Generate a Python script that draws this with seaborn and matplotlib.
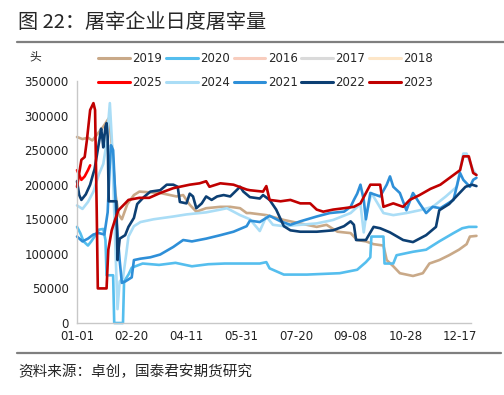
import matplotlib
matplotlib.use("Agg")
import matplotlib.pyplot as plt
from matplotlib.lines import Line2D
import seaborn as sns

# day of year (0 = 01-01) and daily slaughter volume (head)
days_2019 = [0, 5, 10, 14, 18, 24, 29, 32, 35, 38, 41, 46, 52, 57, 66, 76, 91, 97, 103, 109, 118, 131, 140, 149,
             155, 158, 173, 189, 204, 219, 228, 238, 250, 256, 264, 271, 280, 283, 289, 295, 307, 316, 322, 331,
             340, 349, 356, 359, 365]
vals_2019 = [269000, 266000, 268000, 264000, 272000, 284000, 296000, 255000, 188000, 157000, 150000, 172000,
             185000, 190000, 189000, 188000, 183000, 185000, 171000, 161000, 166000, 168000, 168000, 166000,
             159000, 159000, 156000, 149000, 144000, 139000, 142000, 132000, 130000, 120000, 118000, 114000,
             112000, 91000, 82000, 72000, 68000, 72000, 86000, 91000, 98000, 106000, 114000, 125000, 126000]

days_2020 = [0, 3, 6, 10, 13, 16, 20, 24, 26, 27, 33, 34, 42, 43, 47, 50, 60, 75, 90, 105, 120, 135, 149, 167,
             173, 176, 189, 210, 240, 256, 264, 268, 269, 280, 281, 289, 292, 307, 319, 331, 344, 352, 358, 365]
vals_2020 = [139000, 130000, 118000, 112000, 118000, 125000, 135000, 136000, 120000, 69000, 69000, 0, 0,
             60000, 70000, 80000, 86000, 84000, 87000, 82000, 85000, 86000, 86000, 86000, 88000, 79000,
             70000, 70000, 72000, 77000, 88000, 95000, 125000, 125000, 86000, 86000, 98000, 103000, 106000,
             118000, 130000, 137000, 139000, 139000]

days_2021 = [0, 5, 10, 15, 20, 25, 28, 30, 31, 33, 36, 39, 41, 44, 50, 52, 58, 67, 76, 88, 97, 105, 118, 131,
             143, 155, 158, 167, 176, 186, 195, 204, 219, 231, 244, 250, 253, 256, 259, 262, 264, 268, 277,
             283, 286, 289, 295, 301, 307, 313, 319, 325, 332, 344, 350, 353, 359, 362, 365]
vals_2021 = [125000, 118000, 122000, 128000, 130000, 128000, 160000, 230000, 257000, 250000, 150000, 90000,
             58000, 60000, 66000, 91000, 93000, 95000, 99000, 110000, 120000, 118000, 122000, 127000, 132000,
             140000, 148000, 146000, 155000, 147000, 142000, 147000, 154000, 159000, 161000, 168000, 178000,
             187000, 200000, 178000, 150000, 188000, 183000, 200000, 212000, 197000, 188000, 163000, 188000,
             173000, 159000, 168000, 166000, 178000, 217000, 207000, 197000, 207000, 210000]

days_2022 = [0, 2, 4, 8, 12, 15, 16, 21, 22, 23, 24, 26, 27, 28, 29, 33, 36, 37, 39, 44, 47, 52, 55, 61, 67, 76,
             82, 88, 92, 94, 100, 103, 106, 109, 114, 118, 123, 128, 134, 140, 149, 152, 158, 167, 170, 176,
             182, 189, 195, 204, 219, 234, 244, 250, 253, 255, 264, 271, 277, 286, 298, 307, 319, 328, 331,
             340, 349, 355, 361, 365]
vals_2022 = [205000, 185000, 178000, 186000, 200000, 217000, 222000, 270000, 281000, 270000, 254000, 284000,
             289000, 270000, 176000, 176000, 176000, 91000, 122000, 127000, 139000, 152000, 172000, 182000,
             190000, 192000, 200000, 200000, 197000, 175000, 173000, 187000, 183000, 166000, 173000, 183000,
             178000, 183000, 185000, 183000, 197000, 190000, 182000, 180000, 185000, 178000, 164000, 140000,
             134000, 132000, 132000, 134000, 140000, 147000, 142000, 120000, 120000, 139000, 137000, 131000,
             120000, 117000, 127000, 139000, 163000, 172000, 187000, 197000, 200000, 198000]

days_2023 = [0, 4, 7, 9, 12, 15, 16.5, 18, 19, 27, 28.6, 31.7, 34.7, 37.8, 44, 47, 57, 66, 76, 88, 103, 112, 118,
             121, 131, 143, 155, 158, 170, 173, 176, 186, 195, 204, 213, 219, 225, 234, 244, 253, 259, 268,
             277, 280, 289, 298, 304, 313, 323, 332, 344, 350, 353, 358, 362, 365]
vals_2023 = [197000, 236000, 240000, 264000, 308000, 318000, 308000, 163000, 50000, 50000, 106000, 134000,
             149000, 163000, 173000, 178000, 181000, 181000, 188000, 195000, 200000, 202000, 205000, 197000,
             202000, 200000, 193000, 192000, 190000, 198000, 178000, 176000, 178000, 173000, 173000, 164000,
             161000, 164000, 166000, 168000, 173000, 200000, 200000, 168000, 173000, 168000, 178000, 185000,
             194000, 200000, 214000, 221000, 241000, 241000, 217000, 214000]

days_2024 = [0, 5, 10, 15, 20, 24, 27, 30, 32, 34, 37, 39, 42, 45, 47, 52, 58, 70, 88, 100, 118, 131, 137, 149,
             158, 167, 173, 179, 189, 204, 219, 234, 250, 259, 262, 264, 269, 280, 289, 301, 313, 325, 337,
             347, 353, 356, 362, 365]
vals_2024 = [170000, 165000, 175000, 190000, 215000, 230000, 260000, 318000, 260000, 160000, 20000, 60000,
             65000, 100000, 125000, 140000, 146000, 150000, 154000, 157000, 160000, 164000, 166000, 156000,
             150000, 133000, 154000, 142000, 140000, 142000, 144000, 149000, 159000, 172000, 131000, 154000,
             188000, 159000, 156000, 159000, 163000, 168000, 183000, 197000, 245000, 245000, 221000, 214000]

days_2025 = [0, 4, 7, 10, 12]
vals_2025 = [221000, 207000, 212000, 221000, 228000]

series = [
    ("2019", days_2019, vals_2019, "#C9A988"),
    ("2020", days_2020, vals_2020, "#55BEEE"),
    ("2024", days_2024, vals_2024, "#AADDF6"),
    ("2021", days_2021, vals_2021, "#2E8FD8"),
    ("2022", days_2022, vals_2022, "#0C3F73"),
    ("2025", days_2025, vals_2025, "#FF0000"),
    ("2023", days_2023, vals_2023, "#C00000"),
]
legend_only = {"2016": "#F8CDBE", "2017": "#DADADA", "2018": "#FDE6C8"}
legend_rows = [["2019", "2020", "2016", "2017", "2018"],
               ["2025", "2024", "2021", "2022", "2023"]]

x_ticks = [0, 50, 100, 150, 200, 250, 300, 350]
x_labels = ["01-01", "02-20", "04-11", "05-31", "07-20", "09-08", "10-28", "12-17"]
y_ticks = list(range(0, 350001, 50000))

sns.set_style("white")
plt.rcParams["font.family"] = ["DejaVu Sans", "Noto Sans CJK SC"]

fig = plt.figure(figsize=(5.04, 3.95), dpi=100)
ax = fig.add_axes([0.1528, 0.1823, 0.7817, 0.6127])

colors = dict(legend_only)
for name, d, v, c in series:
    sns.lineplot(x=d, y=v, ax=ax, color=c, linewidth=1.9, clip_on=False)
    colors[name] = c

ax.set_xlim(0, 360)
ax.set_ylim(0, 350000)
ax.set_yticks(y_ticks)
ax.set_yticklabels([str(t) for t in y_ticks], fontsize=8.5, color="#222222")
ax.set_xticks(x_ticks)
ax.set_xticklabels(x_labels, fontsize=8.5, color="#222222")
ax.set_xticks(list(range(0, 361, 30)), minor=True)
ax.tick_params(axis="x", which="major", length=0, pad=5)
ax.tick_params(axis="x", which="minor", length=4, color="#BFBFBF", width=0.8)
ax.tick_params(axis="y", length=0, pad=6)
for s in ["top", "right"]:
    ax.spines[s].set_visible(False)
for s in ["left", "bottom"]:
    ax.spines[s].set_color("#C8C8C8")
    ax.spines[s].set_linewidth(1.0)
ax.set_xlabel("")
ax.set_ylabel("")

# legend: matplotlib fills columns first, so interleave the two rows
order = [n for pair in zip(*legend_rows) for n in pair]
handles = [Line2D([0], [0], color=colors[n], linewidth=2.2) for n in order]
fig.legend(handles, order, ncol=5, loc="upper left", bbox_to_anchor=(0.195, 0.868),
           frameon=False, fontsize=8.5, handlelength=2.7, handletextpad=0.2,
           columnspacing=0.3, labelspacing=0.95, borderpad=0, borderaxespad=0)

cjk = ["Noto Sans CJK SC", "DejaVu Sans"]
fig.text(0.036, 0.943, "图 22：屠宰企业日度屠宰量", fontsize=14.5, family=cjk, va="center", ha="left")
fig.add_artist(Line2D([0.034, 1.0], [0.893, 0.893], color="#7F7F7F", linewidth=1.6))
fig.text(0.058, 0.855, "头", fontsize=8.5, family=cjk, va="center", ha="left")
fig.add_artist(Line2D([0.034, 0.995], [0.106, 0.106], color="#7F7F7F", linewidth=1.6))
fig.text(0.036, 0.058, "资料来源：卓创，国泰君安期货研究", fontsize=10.5, family=cjk, va="center", ha="left")

fig.savefig("out.png", dpi=100)
